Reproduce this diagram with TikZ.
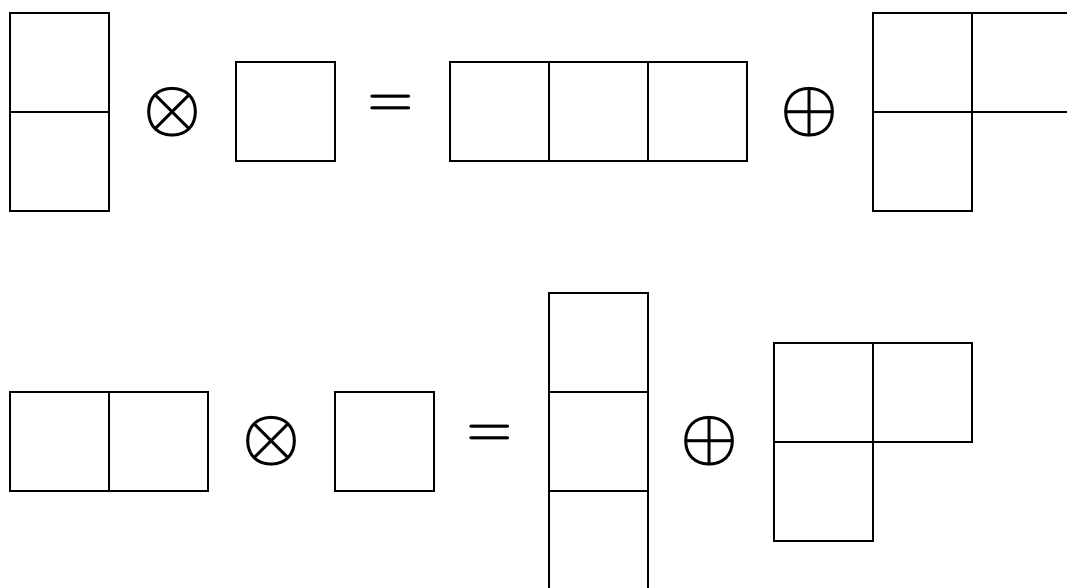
\documentclass[tikz,border=0pt]{standalone}
\begin{document}
\begin{tikzpicture}[x=1pt,y=-1pt,
  cell/.style={draw, line width=1.3pt, minimum size=99pt, inner sep=0pt, outer sep=0pt},
  op/.style={inner sep=0pt, scale=6.5, font=\boldmath},
  eqs/.style={inner sep=0pt, scale=5.2, font=\boldmath}]
\useasboundingbox (0,0) rectangle (1067,588);
\clip (0,0) rectangle (1067,588);
% top row
\node[cell] (a1) at (59.5,62.5) {};
\node[cell] (a2) at (59.5,161.5) {};
\node[op] (t1) at (172.5,112) {$\otimes$};
\node[cell] (b1) at (285.5,111.5) {};
\node[eqs] (e1) at (391,105) {$=$};
\node[cell] (c1) at (499.5,111.5) {};
\node[cell] (c2) at (598.5,111.5) {};
\node[cell] (c3) at (697.5,111.5) {};
\node[op] (p1) at (810,112) {$\oplus$};
\node[cell] (d1) at (922.5,62.5) {};
\node[cell] (d2) at (1021.5,62.5) {};
\node[cell] (d3) at (922.5,161.5) {};
% bottom row
\node[cell] (f1) at (59.5,441.5) {};
\node[cell] (f2) at (158.5,441.5) {};
\node[op] (t2) at (272,441) {$\otimes$};
\node[cell] (g1) at (384.5,441.5) {};
\node[eqs] (e2) at (490,435) {$=$};
\node[cell] (h1) at (598.5,342.5) {};
\node[cell] (h2) at (598.5,441.5) {};
\node[cell] (h3) at (598.5,540.5) {};
\node[op] (p2) at (710,441) {$\oplus$};
\node[cell] (k1) at (823.5,392.5) {};
\node[cell] (k2) at (922.5,392.5) {};
\node[cell] (k3) at (823.5,491.5) {};
\end{tikzpicture}
\end{document}
